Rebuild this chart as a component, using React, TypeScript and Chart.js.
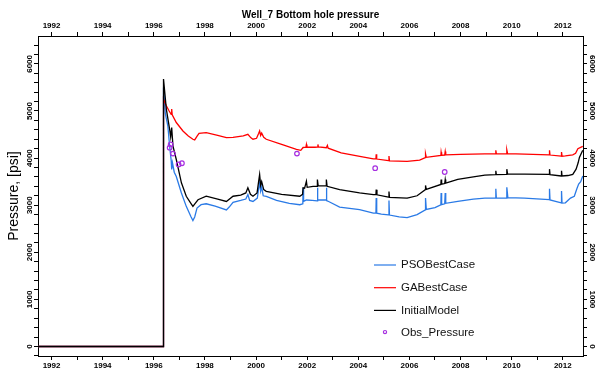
import React, { useEffect, useRef } from "react";
import { Chart, registerables } from "chart.js";

Chart.register(...registerables);

const TITLE = "Well_7 Bottom hole pressure";
const Y_TITLE = "Pressure, [psi]";
const SERIES_NAMES = ["PSOBestCase", "GABestCase", "InitialModel", "Obs_Pressure"];
const SERIES_COLORS = ["#2a7ae6", "#ff0000", "#000000", "#a62ee0"];

const X_MIN = 1991.47;
const X_MAX = 2012.79;
const Y_MIN = -202;
const Y_MAX = 6592;

const xTickValues = [
  1992, 1993, 1994, 1995, 1996, 1997, 1998, 1999, 2000, 2001, 2002,
  2003, 2004, 2005, 2006, 2007, 2008, 2009, 2010, 2011, 2012,
];
const xTickLabels = ["1992", "1994", "1996", "1998", "2000", "2002", "2004", "2006", "2008", "2010", "2012"];
const yTickValues = [
  -200, 0, 200, 400, 600, 800, 1000, 1200, 1400, 1600, 1800, 2000, 2200, 2400, 2600, 2800,
  3000, 3200, 3400, 3600, 3800, 4000, 4200, 4400, 4600, 4800, 5000, 5200, 5400, 5600, 5800,
  6000, 6200, 6400,
];
const yTickLabels = ["0", "1000", "2000", "3000", "4000", "5000", "6000"];

const psoYears = [
  1991.47, 1996.37, 1996.38, 1996.45, 1996.55, 1996.62, 1996.68, 1996.7, 1996.73, 1996.8,
  1996.88, 1997.08, 1997.27, 1997.45, 1997.53, 1997.6, 1997.69, 1997.85, 1998.05, 1998.4,
  1998.84, 1998.95, 1999.1, 1999.4, 1999.6, 1999.68, 1999.75, 1999.88, 2000.05, 2000.1,
  2000.14, 2000.18, 2000.22, 2000.28, 2000.4, 2000.8, 2001.3, 2001.71, 2001.83, 2001.84,
  2001.86, 2001.97, 2002.2, 2002.39, 2002.4, 2002.42, 2002.74, 2002.75, 2002.77, 2003.27,
  2004.05, 2004.59, 2004.69, 2004.7, 2004.72, 2004.9, 2005.18, 2005.2, 2005.22, 2005.6,
  2005.91, 2006.3, 2006.62, 2006.63, 2006.66, 2007.0, 2007.23, 2007.24, 2007.26, 2007.38,
  2007.4, 2007.42, 2007.89, 2008.5, 2008.95, 2009.37, 2009.38, 2009.4, 2009.8, 2009.81,
  2009.85, 2010.5, 2011.47, 2011.48, 2011.5, 2011.94, 2011.95, 2011.97, 2012.1, 2012.3,
  2012.45, 2012.55, 2012.62, 2012.7, 2012.78,
];
const psoValues = [
  0, 0, 5500, 4950, 4680, 4250, 3950, 3760, 3900, 3700,
  3610, 3260, 2975, 2760, 2675, 2750, 2940, 3010, 3030, 2980,
  2900, 2960, 3060, 3100, 3130, 3225, 3100, 3080, 3150, 3350,
  3475, 3300, 3390, 3200, 3185, 3100, 3040, 3010, 3030, 3370,
  3080, 3110, 3100, 3090, 3370, 3110, 3110, 3370, 3100, 2960,
  2905, 2830, 2830, 3150, 2830, 2810, 2795, 3100, 2790, 2750,
  2735, 2800, 2900, 3150, 2910, 2950, 3010, 3260, 3010, 3030,
  3260, 3040, 3080, 3130, 3150, 3150, 3350, 3150, 3150, 3380,
  3160, 3150, 3120, 3350, 3110, 3050, 3300, 3045, 3050, 3150,
  3190, 3350, 3450, 3500, 3620,
];

const gaYears = [
  1991.47, 1996.37, 1996.38, 1996.49, 1996.6, 1996.68, 1996.7, 1996.72, 1996.88, 1997.14,
  1997.35, 1997.53, 1997.6, 1997.7, 1997.77, 1998.05, 1998.5, 1998.84, 1999.1, 1999.5,
  1999.68, 1999.8, 1999.88, 2000.02, 2000.1, 2000.14, 2000.18, 2000.22, 2000.3, 2000.4,
  2001.0, 2001.58, 2001.75, 2001.84, 2001.95, 2001.97, 2001.99, 2002.3, 2002.4, 2002.42,
  2002.44, 2002.75, 2002.79, 2002.82, 2003.33, 2004.11, 2004.59, 2004.69, 2004.7, 2004.72,
  2005.18, 2005.2, 2005.22, 2005.91, 2006.4, 2006.62, 2006.63, 2006.66, 2007.23, 2007.24,
  2007.26, 2007.38, 2007.4, 2007.42, 2008.0, 2008.95, 2009.37, 2009.38, 2009.4, 2009.8,
  2009.81, 2009.84, 2010.5, 2011.47, 2011.48, 2011.5, 2011.94, 2011.95, 2011.97, 2012.1,
  2012.39, 2012.5, 2012.59, 2012.78,
];
const gaValues = [
  0, 0, 5250, 5110, 5000, 4930, 5040, 4920, 4755, 4575,
  4470, 4400, 4385, 4470, 4525, 4540, 4480, 4435, 4440, 4470,
  4505, 4430, 4400, 4420, 4520, 4575, 4480, 4530, 4440, 4400,
  4290, 4185, 4165, 4225, 4230, 4290, 4230, 4230, 4235, 4290,
  4235, 4220, 4270, 4210, 4110, 4030, 3985, 3985, 4080, 3980,
  3945, 4045, 3940, 3930, 3955, 4010, 4090, 4015, 4055, 4125,
  4060, 4065, 4140, 4070, 4080, 4090, 4090, 4165, 4090, 4090,
  4175, 4095, 4085, 4070, 4165, 4065, 4040, 4130, 4040, 4045,
  4070, 4100, 4200, 4250,
];

const initYears = [
  1991.47, 1996.37, 1996.38, 1996.49, 1996.62, 1996.66, 1996.7, 1996.75, 1996.88, 1997.08,
  1997.27, 1997.45, 1997.53, 1997.62, 1997.73, 1998.05, 1998.5, 1998.84, 1999.1, 1999.4,
  1999.6, 1999.68, 1999.78, 1999.88, 2000.04, 2000.1, 2000.14, 2000.18, 2000.22, 2000.3,
  2000.4, 2001.0, 2001.71, 2001.82, 2001.84, 2001.9, 2001.97, 2002.0, 2002.23, 2002.39,
  2002.4, 2002.43, 2002.74, 2002.75, 2002.78, 2003.27, 2004.05, 2004.59, 2004.69, 2004.7,
  2004.73, 2005.18, 2005.2, 2005.22, 2005.91, 2006.3, 2006.62, 2006.63, 2006.66, 2007.23,
  2007.24, 2007.26, 2007.38, 2007.4, 2007.42, 2007.89, 2008.5, 2008.95, 2009.37, 2009.38,
  2009.4, 2009.8, 2009.81, 2009.84, 2010.5, 2011.47, 2011.48, 2011.5, 2011.94, 2011.95,
  2011.97, 2012.2, 2012.39, 2012.52, 2012.6, 2012.65, 2012.78,
];
const initValues = [
  0, 0, 5680, 5040, 4610, 4450, 4650, 4255, 3970, 3475,
  3190, 3040, 2975, 3040, 3115, 3190, 3130, 3080, 3190, 3215,
  3260, 3370, 3230, 3190, 3260, 3500, 3650, 3420, 3500, 3330,
  3295, 3230, 3190, 3230, 3370, 3360, 3510, 3380, 3400, 3400,
  3545, 3410, 3410, 3545, 3400, 3330, 3260, 3225, 3225, 3330,
  3220, 3170, 3290, 3165, 3150, 3200, 3330, 3420, 3335, 3440,
  3545, 3445, 3460, 3545, 3470, 3550, 3600, 3640, 3650, 3730,
  3650, 3655, 3765, 3660, 3660, 3655, 3765, 3650, 3620, 3730,
  3620, 3630, 3655, 3765, 3900, 4015, 4165,
];

const obsYears = [1996.62, 1996.66, 1996.75, 1996.97, 1997.1, 2001.6, 2004.66, 2007.38];
const obsValues = [4220, 4290, 4095, 3865, 3890, 4095, 3785, 3705];

const FONT = "'Liberation Sans', Arial, Helvetica, sans-serif";
const TICK_FONT = `bold 8px ${FONT}`;

const pairs = (xs: number[], ys: number[]) => xs.map((x, i) => ({ x, y: ys[i] }));

const insideLegend = {
  id: "insideLegend",
  afterDraw(chart: any) {
    const ctx = chart.ctx;
    const area = chart.chartArea;
    const x0 = area.right - 209;
    const y0 = area.bottom - 91;
    const gap = 22.7;
    ctx.save();
    ctx.font = `11.5px ${FONT}`;
    ctx.textBaseline = "middle";
    ctx.textAlign = "left";
    chart.data.datasets.forEach((ds: any, i: number) => {
      const y = y0 + i * gap;
      ctx.beginPath();
      ctx.strokeStyle = ds.borderColor;
      ctx.lineWidth = 1.2;
      if (ds.showLine === false) {
        ctx.arc(x0 + 11, y - 1, 1.6, 0, Math.PI * 2);
      } else {
        ctx.moveTo(x0, y);
        ctx.lineTo(x0 + 22, y);
      }
      ctx.stroke();
      ctx.fillStyle = "#111";
      ctx.fillText(ds.label, x0 + 27, y);
    });
    ctx.restore();
  },
};

// rotated value labels for the two vertical axes, placed at the scale's own tick pixels
const rotatedYLabels = {
  id: "rotatedYLabels",
  afterDraw(chart: any) {
    const ctx = chart.ctx;
    ctx.save();
    ctx.font = TICK_FONT;
    ctx.fillStyle = "#000";
    ctx.textAlign = "center";
    ctx.textBaseline = "middle";
    ["y", "y2"].forEach((id) => {
      const scale = chart.scales[id];
      if (!scale) return;
      const left = scale.position === "left";
      const x = left ? scale.right - 8.5 : scale.left + 9;
      scale.ticks.forEach((t: any) => {
        const label = String(t.value);
        if (!yTickLabels.includes(label)) return;
        const y = scale.getPixelForValue(t.value);
        ctx.save();
        ctx.translate(x, y);
        ctx.rotate(left ? -Math.PI / 2 : Math.PI / 2);
        ctx.fillText(label, 0, 0);
        ctx.restore();
      });
    });
    ctx.restore();
  },
};

const xTickCallback = (v: any) => {
  const s = String(v);
  return xTickLabels.includes(s) ? s : "";
};

const tickFont = { family: FONT, size: 8, weight: "bold" as const };

export default function App() {
  const ref = useRef<HTMLCanvasElement | null>(null);

  useEffect(() => {
    document.body.style.margin = "0";
    const canvas = ref.current;
    if (!canvas) return;
    Chart.defaults.font.family = FONT;
    Chart.defaults.color = "#000";

    const xCommon = (position: string, height: number, extra: any = {}) => ({
      type: "linear",
      position,
      min: X_MIN,
      max: X_MAX,
      afterBuildTicks: (s: any) => {
        s.ticks = xTickValues.map((value) => ({ value }));
      },
      ticks: {
        autoSkip: false,
        maxRotation: 0,
        minRotation: 0,
        padding: 1,
        color: "#000",
        font: tickFont,
        callback: xTickCallback,
      },
      grid: { drawOnChartArea: false, drawTicks: true, tickLength: 4, color: "#000", lineWidth: 1 },
      border: { display: true, color: "#000", width: 1 },
      afterFit: (s: any) => {
        s.height = height;
      },
      ...extra,
    });

    const yCommon = (position: string, width: number, extra: any = {}) => ({
      type: "linear",
      position,
      min: Y_MIN,
      max: Y_MAX,
      afterBuildTicks: (s: any) => {
        s.ticks = yTickValues.map((value) => ({ value }));
      },
      ticks: {
        autoSkip: false,
        display: false,
      },
      grid: { drawOnChartArea: false, drawTicks: true, tickLength: 4, color: "#000", lineWidth: 1 },
      border: { display: true, color: "#000", width: 1 },
      afterFit: (s: any) => {
        s.width = width;
      },
      ...extra,
    });

    const chart = new Chart(canvas, {
      type: "line",
      data: {
        datasets: [
          {
            label: SERIES_NAMES[0],
            data: pairs(psoYears, psoValues),
            borderColor: SERIES_COLORS[0],
            backgroundColor: SERIES_COLORS[0],
            borderWidth: 1.3,
            pointRadius: 0,
            tension: 0,
            order: 3,
          },
          {
            label: SERIES_NAMES[1],
            data: pairs(gaYears, gaValues),
            borderColor: SERIES_COLORS[1],
            backgroundColor: SERIES_COLORS[1],
            borderWidth: 1.3,
            pointRadius: 0,
            tension: 0,
            order: 2,
          },
          {
            label: SERIES_NAMES[2],
            data: pairs(initYears, initValues),
            borderColor: SERIES_COLORS[2],
            backgroundColor: SERIES_COLORS[2],
            borderWidth: 1.3,
            pointRadius: 0,
            tension: 0,
            order: 1,
          },
          {
            label: SERIES_NAMES[3],
            data: pairs(obsYears, obsValues),
            borderColor: SERIES_COLORS[3],
            backgroundColor: "rgba(0,0,0,0)",
            showLine: false,
            pointRadius: 2.3,
            pointBorderWidth: 1.2,
            pointStyle: "circle",
            order: 0,
          },
        ],
      },
      options: {
        animation: false,
        responsive: false,
        devicePixelRatio: 1,
        layout: { padding: 0 },
        plugins: {
          legend: { display: false },
          title: { display: false },
          tooltip: { enabled: false },
        },
        scales: {
          x: xCommon("bottom", 22),
          x2: xCommon("top", 36, {
            title: {
              display: true,
              text: TITLE,
              color: "#000",
              font: { family: FONT, size: 10, weight: "bold" },
              padding: { top: 9, bottom: 0 },
            },
          }),
          y: yCommon("left", 38, {
            title: {
              display: true,
              text: Y_TITLE,
              color: "#000",
              font: { family: FONT, size: 14, weight: "normal" },
              padding: { top: 6, bottom: 0 },
            },
          }),
          y2: yCommon("right", 30),
        },
      } as any,
      plugins: [insideLegend, rotatedYLabels],
    });

    return () => chart.destroy();
  }, []);

  return (
    <div style={{ width: 613, height: 378, background: "#fff" }}>
      <canvas ref={ref} width={613} height={378} style={{ display: "block" }} />
    </div>
  );
}
